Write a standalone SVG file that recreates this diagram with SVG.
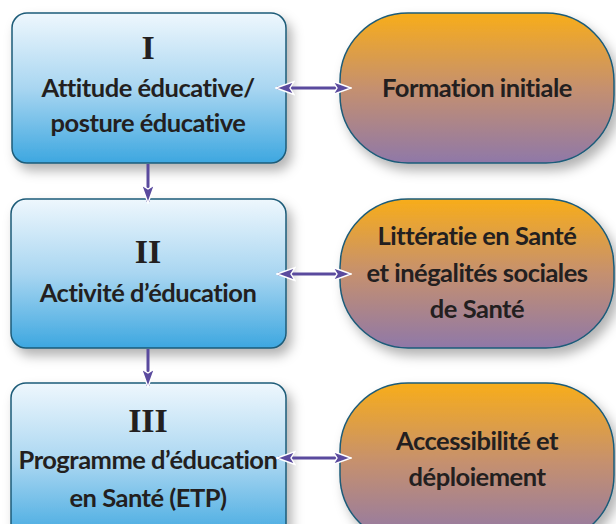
<svg xmlns="http://www.w3.org/2000/svg" width="616" height="524" viewBox="0 0 616 524">
  <defs>
    <linearGradient id="gBox" x1="0" y1="0" x2="0" y2="1">
      <stop offset="0" stop-color="#eef7fd"/>
      <stop offset="0.5" stop-color="#a9d6f1"/>
      <stop offset="1" stop-color="#3da7e0"/>
    </linearGradient>
    <linearGradient id="gPill" x1="0" y1="0" x2="0" y2="1">
      <stop offset="0" stop-color="#f8ad1a"/>
      <stop offset="0.5" stop-color="#c5906f"/>
      <stop offset="1" stop-color="#8f78a8"/>
    </linearGradient>
    <filter id="shadow" x="-20%" y="-20%" width="150%" height="150%">
      <feDropShadow dx="5" dy="7" stdDeviation="6" flood-color="#000" flood-opacity="0.3"/>
    </filter>
    <marker id="head" viewBox="0 0 20 16" refX="18" refY="8" markerWidth="20" markerHeight="16" markerUnits="userSpaceOnUse" orient="auto-start-reverse">
      <path d="M1,1.5 L19,8 L1,14.5 L5,8 Z" fill="#5a4a9e" stroke="#ffffff" stroke-width="1.4" stroke-linejoin="miter"/>
    </marker>
  </defs>
  <style>
    .box { fill: url(#gBox); stroke: #1d5b78; stroke-width: 1.5; filter: url(#shadow); }
    .pill { fill: url(#gPill); stroke: #1d5b78; stroke-width: 1.5; filter: url(#shadow); }
    .num { font-family: "Liberation Serif", "Times New Roman", serif; font-weight: bold; font-size: 34px; fill: #231f20; text-anchor: middle; }
    .lbl { font-family: Lato, "Open Sans", "Liberation Sans", sans-serif; font-weight: bold; font-size: 25.5px; letter-spacing: -0.5px; fill: #231f20; text-anchor: middle; }
    .link { stroke: #5a4a9e; stroke-width: 3; fill: none; }
  </style>

  <rect width="616" height="524" fill="#ffffff"/>

  <g id="node-I">
    <rect class="box" x="12" y="13" width="274" height="150" rx="15"/>
    <text class="num" x="148" y="59">I</text>
    <text class="lbl" x="148" y="97">Attitude éducative/</text>
    <text class="lbl" x="148" y="132">posture éducative</text>
  </g>

  <g id="node-II">
    <rect class="box" x="11" y="199" width="275" height="149" rx="15"/>
    <text class="num" x="148" y="263">II</text>
    <text class="lbl" x="148" y="302">Activité d’éducation</text>
  </g>

  <g id="node-III">
    <rect class="box" x="11" y="383" width="275" height="160" rx="15"/>
    <text class="num" x="148" y="432">III</text>
    <text class="lbl" x="148" y="469">Programme d’éducation</text>
    <text class="lbl" x="148" y="507">en Santé (ETP)</text>
  </g>

  <g id="node-formation">
    <rect class="pill" x="340" y="13" width="274" height="150" rx="68"/>
    <text class="lbl" x="477" y="97">Formation initiale</text>
  </g>

  <g id="node-litteratie">
    <rect class="pill" x="340" y="199" width="274" height="149" rx="68"/>
    <text class="lbl" x="477" y="245">Littératie en Santé</text>
    <text class="lbl" x="477" y="282">et inégalités sociales</text>
    <text class="lbl" x="477" y="318">de Santé</text>
  </g>

  <g id="node-accessibilite">
    <rect class="pill" x="340" y="383" width="274" height="160" rx="68"/>
    <text class="lbl" x="477" y="450">Accessibilité et</text>
    <text class="lbl" x="477" y="486">déploiement</text>
  </g>

  <g id="connectors">
    <line class="link" x1="148" y1="164" x2="148" y2="202" marker-end="url(#head)"/>
    <line class="link" x1="148" y1="349" x2="148" y2="386" marker-end="url(#head)"/>
    <line class="link" x1="277" y1="88" x2="350" y2="88" marker-start="url(#head)" marker-end="url(#head)"/>
    <line class="link" x1="278" y1="274" x2="350" y2="274" marker-start="url(#head)" marker-end="url(#head)"/>
    <line class="link" x1="278" y1="458" x2="350" y2="458" marker-start="url(#head)" marker-end="url(#head)"/>
  </g>
</svg>
